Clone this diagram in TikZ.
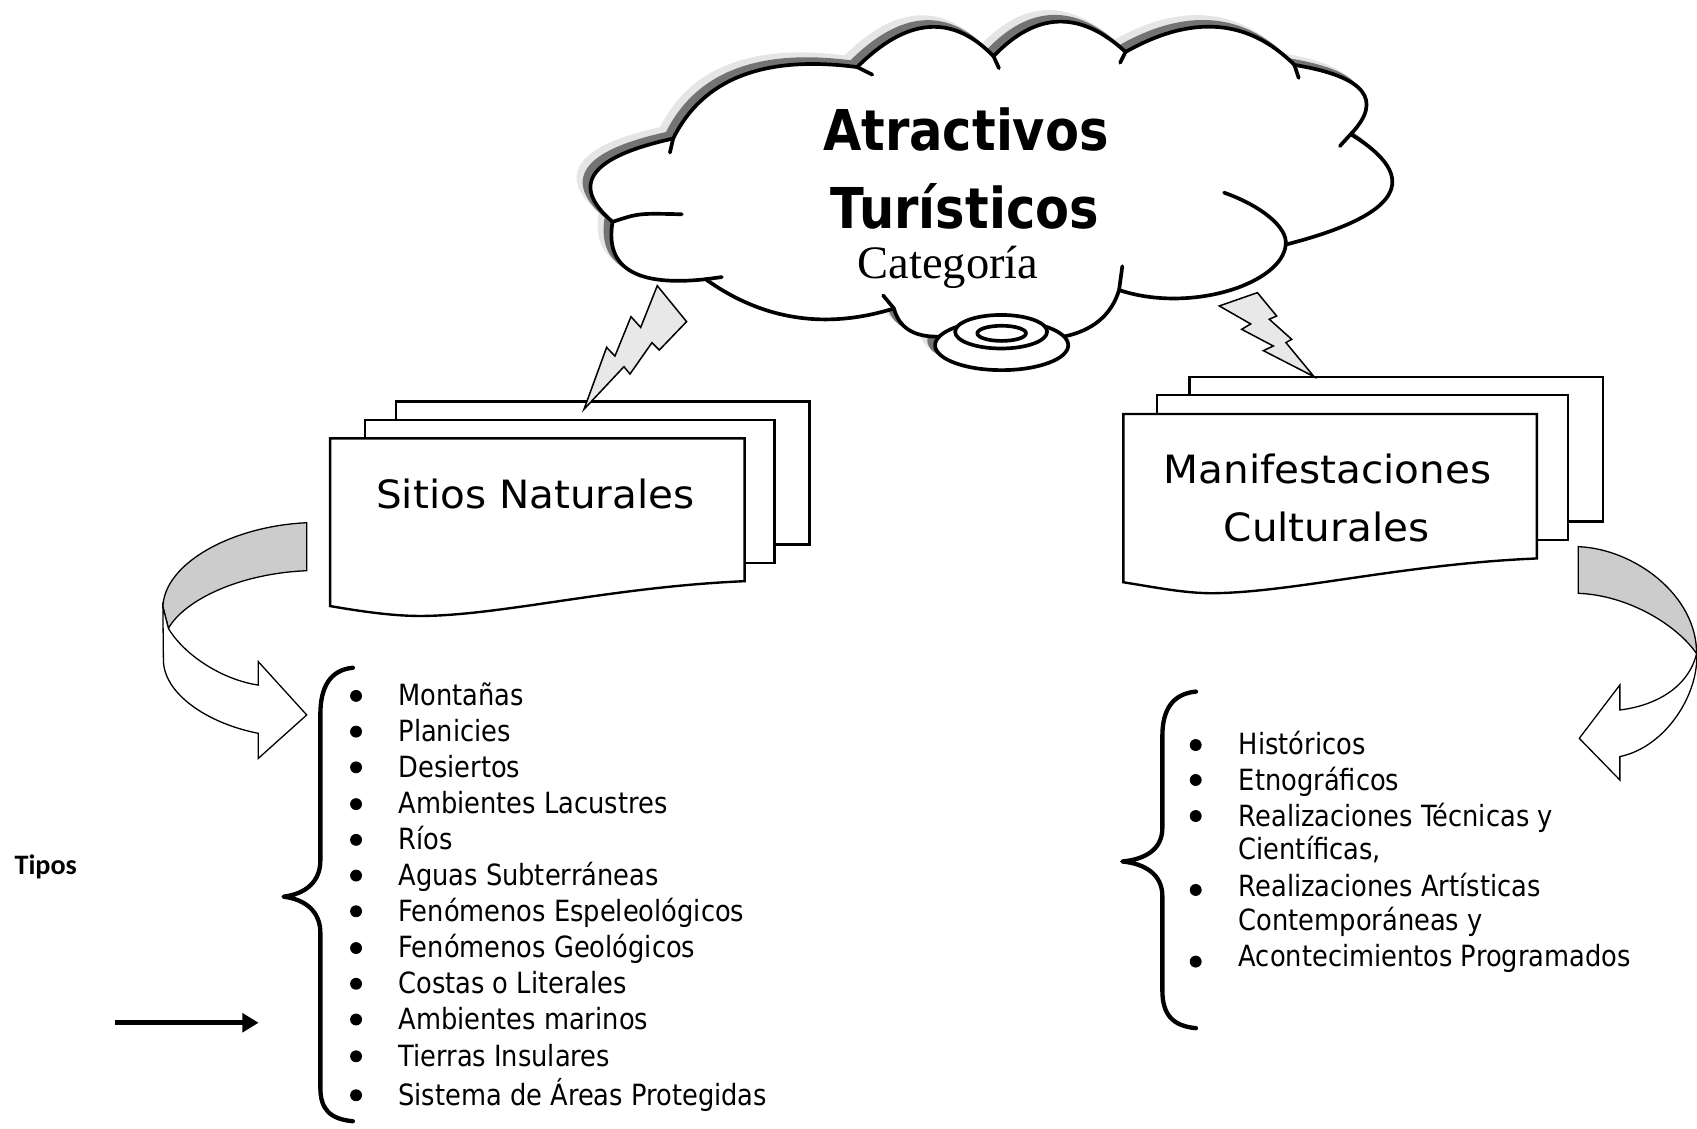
\documentclass[tikz,border=0pt]{standalone}
\usepackage{fontspec}
\usetikzlibrary{arrows.meta}
\newfontfamily\listfont[FakeStretch=0.88]{DejaVu Sans}
\newfontfamily\comicfont[FakeStretch=1.04]{DejaVu Sans}
\newfontfamily\titlefont[FakeStretch=0.88]{DejaVu Sans}
\newfontfamily\catfont{Liberation Serif}
\newfontfamily\tiposfont{Carlito}
\def\cloudpath{(566,205) .. controls (526,170.7) and (544.7,145) .. (622,128)
 .. controls (649.3,72.7) and (706,50.7) .. (792,62)
 .. controls (838,16) and (880,12.7) .. (918,52)
 .. controls (957.3,10.7) and (998,9.3) .. (1040,48)
 .. controls (1101.3,13.3) and (1153.3,17.3) .. (1196,60)
 .. controls (1261.3,70.7) and (1278.7,92) .. (1248,124)
 .. controls (1314.7,164.7) and (1294.7,198.7) .. (1188,226)
 .. controls (1185,262) and (1100,290) .. (1034,268)
 .. controls (1027,291) and (1010,305.3) .. (983,311)
 -- (868,311)
 .. controls (844.7,311.7) and (830.7,303) .. (826,285)
 .. controls (762.7,304.7) and (704.7,295.7) .. (652,258)
 .. controls (587.3,265) and (558.7,247.3) .. (566,205) -- cycle}
\def\ellpath{(925.5,319) ellipse [x radius=61.5pt, y radius=23pt] (925,306.5) ellipse [x radius=42.5pt, y radius=15.5pt]}
\begin{document}
\begin{tikzpicture}[x=1pt,y=-1pt,
  outline/.style={draw=black, line width=3.4pt, line join=round, line cap=round},
  shlight/.style={fill=black!10, draw=black!10, line width=3.4pt},
  shdark/.style={fill=black!55, draw=black!55, line width=3.4pt},
  page/.style={draw=black, fill=white, line width=2.2pt, line join=miter},
  bolt/.style={draw=black, fill=black!9, line width=1.4pt, line join=miter},
  ribbon/.style={draw=black, line width=1.2pt, line join=miter},
  brace/.style={draw=black, line width=4pt, line cap=round, line join=round},
  bul/.style={circle, fill=black, inner sep=0pt, minimum size=11pt},
  itemtext/.style={anchor=base west, inner sep=0pt, font=\listfont\fontsize{27}{30}\selectfont},
  cloudtitle/.style={anchor=base, inner sep=0pt, font=\titlefont\bfseries\fontsize{52}{60}\selectfont},
  doctext/.style={anchor=base, inner sep=0pt, font=\comicfont\fontsize{36}{40}\selectfont}]
\useasboundingbox (0,0) rectangle (1568,1043);
\fill[white] (0,0) rectangle (1568,1043);

% cloud shadows
\begin{scope}[shift={(-11,-9)}]
  \filldraw[shlight] \cloudpath;
  \filldraw[shlight] \ellpath;
\end{scope}
\begin{scope}[shift={(-5.5,-4.5)}]
  \filldraw[shdark] \cloudpath;
  \filldraw[shdark] \ellpath;
\end{scope}
% cloud
\filldraw[outline, fill=white] \cloudpath;
\draw[outline] (566,205) .. controls (590,197) .. (630,198);
\draw[outline] (622,128) -- (619,141);
\draw[outline] (792,62) -- (806,69);
\draw[outline] (918,52) -- (923,63);
\draw[outline] (1040,48) -- (1035,58);
\draw[outline] (1196,60) -- (1200,72);
\draw[outline] (1248,124) -- (1238,135);
\draw[outline] (1131,178) .. controls (1165,190) and (1190,210) .. (1188,226);
\draw[outline] (1037,246) -- (1034,268);
\draw[outline] (816,273) -- (826,285);
\draw[outline] (652,258) -- (667,256);
\filldraw[outline, fill=white] (925.5,319) ellipse [x radius=61.5pt, y radius=23pt];
\filldraw[outline, fill=white] (925,306.5) ellipse [x radius=42.5pt, y radius=15.5pt];
\draw[outline] (925.5,308) ellipse [x radius=22.5pt, y radius=7pt];

\node[cloudtitle] (t1) at (892.5,139) {Atractivos};
\node[cloudtitle, text depth=0pt] (t2) at (891.5,211) {Turísticos};
\node[anchor=base, inner sep=0pt, text height=30pt, font=\catfont\fontsize{43}{48}\selectfont] (cat) at (876,257) {Categoría};

% left documents
\filldraw[page] (366,371) rectangle (748,503);
\filldraw[page] (337,388) rectangle (715.5,520);
\filldraw[page] (305,405) -- (305,560) .. controls (340,566) and (370,570) .. (397,569)
  .. controls (470,567) and (570,542) .. (688,537) -- (688,405) -- cycle;
\node[doctext] (sn) at (494.7,469.5) {Sitios Naturales};

% right documents
\filldraw[page] (1099,348.6) rectangle (1481.4,482);
\filldraw[page] (1069,365) rectangle (1449,499);
\filldraw[page] (1038,382.5) -- (1038,538) .. controls (1075,544) and (1100,549) .. (1127,548)
  .. controls (1200,546) and (1300,521) .. (1420,516) -- (1420,382.5) -- cycle;
\node[doctext] (mc1) at (1226.5,446.6) {Manifestaciones};
\node[doctext] (mc2) at (1225.7,500.4) {Culturales};

% lightning bolts
\filldraw[bolt] (539.6,378.2) -- (560.5,321) -- (568.2,329) -- (583,292.6) -- (592,302.5) -- (607.3,264)
  -- (634.4,297.2) -- (609.2,323.4) -- (602.4,316.6) -- (582.1,345.6) -- (576.5,338.8) -- cycle;
\filldraw[bolt] (1126.6,282.7) -- (1161.8,270.4) -- (1179.6,292) -- (1172.8,295) -- (1193.5,313.5)
  -- (1188.2,316.6) -- (1214.1,348) -- (1167.3,324) -- (1176.5,319.7) -- (1147.3,304.3) -- (1155.6,299.3) -- cycle;

% left curved arrow
\filldraw[ribbon, fill=black!20] (283.4,483) .. controls (215,486) and (152,520) .. (150.5,560.6)
  -- (155.6,580.6) .. controls (170,555) and (220,530) .. (283.4,527.3) -- cycle;
\filldraw[ribbon, fill=white] (150.5,560.6) -- (151,609.8) .. controls (151,640) and (190,668) .. (238.7,677.6)
  -- (238.7,700.7) -- (283.4,660.6) -- (238.7,611.4) -- (238.7,633)
  .. controls (205,628) and (170,605) .. (155.6,580.6) -- cycle;

% right curved arrow
\filldraw[ribbon, fill=black!20] (1458.2,505.1) .. controls (1510,507) and (1568,550) .. (1567.6,604)
  .. controls (1550,578) and (1505,550) .. (1458.2,548.2) -- cycle;
\filldraw[ribbon, fill=white] (1567.6,604) .. controls (1570,640) and (1540,690) .. (1496.7,699.1)
  -- (1496.7,720.7) -- (1459.2,682.2) -- (1496.7,632.9) -- (1496.7,656)
  .. controls (1530,652) and (1560,635) .. (1567.6,604) -- cycle;

% braces
\draw[brace] (326,617) .. controls (305,619) and (296,635) .. (296,660) -- (296,795)
  .. controls (296,815) and (282,826) .. (262,828.5) .. controls (282,831) and (296,842) .. (296,862)
  -- (296,1005) .. controls (296,1025) and (305,1034) .. (326,1036);
\draw[brace] (1105,639) .. controls (1084,641) and (1074,655) .. (1074,680) -- (1074,765)
  .. controls (1074,785) and (1058,794) .. (1037,796) .. controls (1058,798) and (1074,808) .. (1074,828)
  -- (1074,915) .. controls (1074,938) and (1084,948) .. (1105,950);

% left list
\foreach \y/\t [count=\i] in {643/Montañas, 676/Planicies, 709/Desiertos, 743/Ambientes Lacustres,
  776/Ríos, 809/Aguas Subterráneas, 842/Fenómenos Espeleológicos, 876/Fenómenos Geológicos,
  909/Costas o Literales, 942/Ambientes marinos, 976/Tierras Insulares, 1012/Sistema de Áreas Protegidas}{
  \node[bul] (lb\i) at (329,\y) {};
  \node[itemtext] (li\i) at (368,\y+9) {\t};
}

% right list
\node[bul] (rb1) at (1104.8,688.4) {};
\node[bul] (rb2) at (1104.8,720.7) {};
\node[bul] (rb3) at (1104.8,754) {};
\node[bul] (rb4) at (1104.8,822.3) {};
\node[bul] (rb5) at (1104.8,888.5) {};
\node[itemtext] (ri1) at (1144.4,697.6) {Históricos};
\node[itemtext] (ri2) at (1144.4,730) {Etnográficos};
\node[itemtext] (ri3) at (1144.4,763.8) {Realizaciones Técnicas y};
\node[itemtext] (ri4) at (1144.4,794.6) {Científicas,};
\node[itemtext] (ri5) at (1144.4,827.9) {Realizaciones Artísticas};
\node[itemtext] (ri6) at (1144.4,859.3) {Contemporáneas y};
\node[itemtext] (ri7) at (1144.4,893.2) {Acontecimientos Programados};

% Tipos and arrow
\node[anchor=base, inner sep=0pt, font=\tiposfont\bfseries\fontsize{26}{30}\selectfont] (tipos) at (42.3,808.4) {Tipos};
\coordinate (arrS) at (106,945);
\coordinate (arrE) at (239,945);
\draw[line width=5pt, -{Triangle[length=15pt,width=17pt]}] (arrS) -- (arrE);
\end{tikzpicture}
\end{document}
